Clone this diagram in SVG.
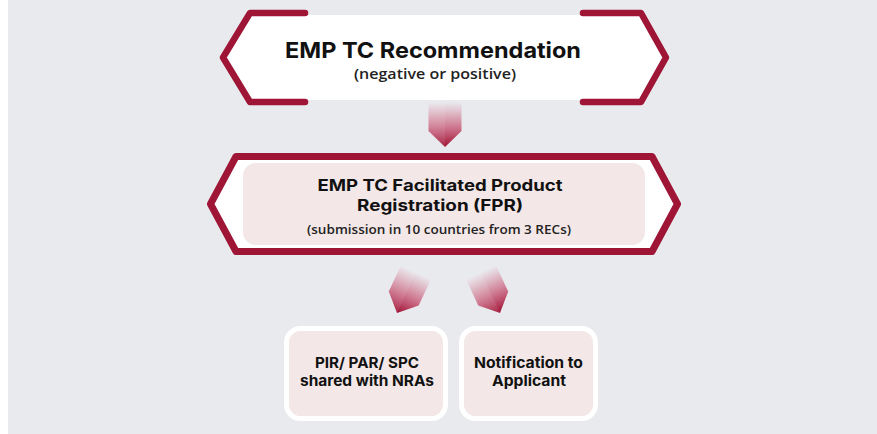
<svg xmlns="http://www.w3.org/2000/svg" width="877" height="434" viewBox="0 0 877 434">
<style>
.red{fill:none;stroke:#9e1536;stroke-width:6.5;stroke-linejoin:round;stroke-linecap:round}
.t{font-family:Inter,"Open Sans","Liberation Sans",sans-serif;font-weight:700;fill:#111;text-anchor:middle}
.s{font-family:"Open Sans","Liberation Sans",sans-serif;font-weight:600;fill:#222;text-anchor:middle}
.pink{fill:#f3e7e7}
.card{fill:#f3e7e7;stroke:#ffffff;stroke-width:5}
</style>
<defs>
<linearGradient id="ag" x1="0" y1="0" x2="0" y2="1">
<stop offset="0" stop-color="#c2264d" stop-opacity="0"/>
<stop offset="0.55" stop-color="#b81d45" stop-opacity="0.55"/>
<stop offset="1" stop-color="#9e1233" stop-opacity="1"/>
</linearGradient>
<g id="arrow">
<polygon points="-16.5,-45 16.5,-45 16.5,-16 0,0 -16.5,-16" fill="url(#ag)"/>
<polygon points="-16.5,-45 0,-45 0,0 -16.5,-16" fill="#ffffff" fill-opacity="0.08"/>
</g>
</defs>
<rect x="0" y="0" width="877" height="434" fill="#ffffff"/>
<rect x="8" y="0" width="869" height="434" fill="#e9eaee"/>

<g id="node-recommendation">
<polygon points="250,15 641,15 664,57.5 641,100 250,100 225,57.5" fill="#ffffff"/>
<path class="red" d="M305,13 L250,13 L223,57.5 L250,102 L305,102"/>
<path class="red" d="M583,13 L641,13 L666,57.5 L641,102 L583,102"/>
<text class="t" x="433" y="58" font-size="22" textLength="296" lengthAdjust="spacingAndGlyphs">EMP TC Recommendation</text>
<text class="s" x="435" y="79" font-size="15" textLength="162" lengthAdjust="spacingAndGlyphs">(negative or positive)</text>
</g>

<g id="node-fpr">
<path d="M236,156.5 L652,156.5 L677.5,204 L652,251.5 L236,251.5 L210.5,204 Z" fill="#ffffff" stroke="#9e1536" stroke-width="7" stroke-linejoin="round"/>
<rect class="pink" x="243" y="163" width="402" height="82" rx="13"/>
<text class="t" x="440" y="191" font-size="16" textLength="245" lengthAdjust="spacingAndGlyphs">EMP TC Facilitated Product</text>
<text class="t" x="440" y="211" font-size="16" textLength="166" lengthAdjust="spacingAndGlyphs">Registration (FPR)</text>
<text class="s" x="439" y="234" font-size="13" textLength="264" lengthAdjust="spacingAndGlyphs">(submission in 10 countries from 3 RECs)</text>
</g>

<g id="node-pir">
<rect class="card" x="286.5" y="328.5" width="159" height="90" rx="14"/>
<text class="t" x="367" y="368" font-size="15" textLength="104" lengthAdjust="spacingAndGlyphs">PIR/ PAR/ SPC</text>
<text class="t" x="367" y="386" font-size="15" textLength="134" lengthAdjust="spacingAndGlyphs">shared with NRAs</text>
</g>

<g id="node-notification">
<rect class="card" x="461.5" y="328.5" width="134" height="90" rx="14"/>
<text class="t" x="528.5" y="368" font-size="15" textLength="109" lengthAdjust="spacingAndGlyphs">Notification to</text>
<text class="t" x="529" y="386" font-size="15" textLength="74" lengthAdjust="spacingAndGlyphs">Applicant</text>
</g>

<g id="connectors">
<use href="#arrow" transform="translate(445,147)"/>
<use href="#arrow" transform="translate(397,313) rotate(25)"/>
<use href="#arrow" transform="translate(500,313) rotate(-25)"/>
</g>
</svg>
